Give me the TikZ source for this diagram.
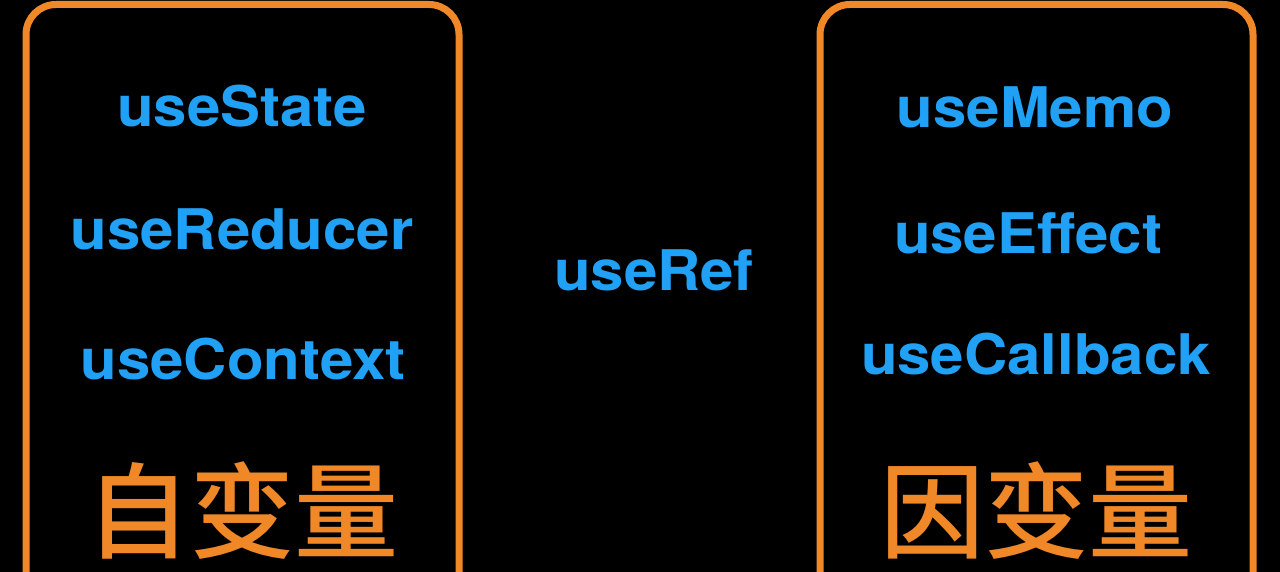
\documentclass[tikz,border=0pt]{standalone}
\usepackage{fontspec}
\newfontfamily\hookfont[FakeStretch=1.07]{TeX Gyre Heros}
\newfontfamily\cjk[BoldFont={Noto Sans CJK SC Medium}]{Noto Sans CJK SC}
\definecolor{hookblue}{RGB}{33,161,245}
\definecolor{boxorange}{RGB}{240,136,40}

\begin{document}
\begin{tikzpicture}[x=1pt,y=1pt,
    hook/.style={text=hookblue, font=\hookfont\bfseries\fontsize{56}{62}\selectfont, anchor=base, inner sep=0pt},
    kind/.style={text=boxorange, font=\cjk\bfseries\fontsize{104}{110}\selectfont, inner sep=0pt},
    group/.style={draw=boxorange, line width=7pt, rounded corners=30pt}]
    \fill[black] (0,0) rectangle (1280,572);
    \useasboundingbox (0,0) rectangle (1280,572);
    \clip (0,0) rectangle (1280,572);
    % the two groups, cut off at the bottom
    \draw[group] (26,-60) rectangle (459,567.5);
    \draw[group] (820,-60) rectangle (1253,567.5);
    % hooks
    \foreach \name/\x/\y in {useState/242/445,useReducer/242/322,useContext/243/192,
                             useRef/654/281,
                             useMemo/1035/444,useEffect/1028/318,useCallback/1036/197} {
        \node[hook] (\name) at (\x,\y) {\name};
    }
    \node[kind] (indep) at (242,61) {自变量};
    \node[kind] (dep) at (1036,61) {因变量};
\end{tikzpicture}
\end{document}
